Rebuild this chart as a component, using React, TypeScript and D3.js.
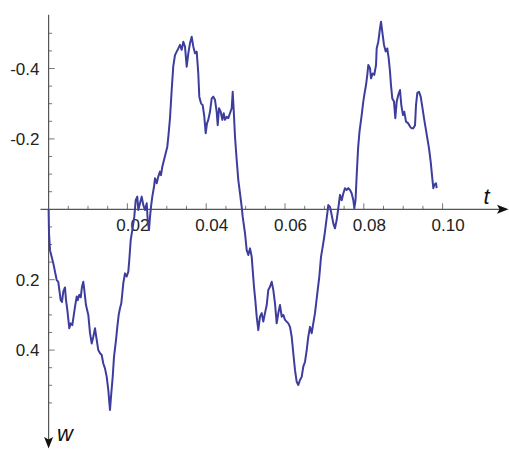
import React from "react";
import * as d3 from "d3";

// Sample path w(t): times (s) and displacements (positive downward)
const tValues: number[] = [
  0, 0.0001, 0.00036, 0.00119, 0.00162, 0.00206, 0.00246, 0.00272, 0.00307, 0.0034,
  0.00373, 0.00416, 0.00442, 0.00475, 0.00525, 0.00561, 0.00602, 0.00627, 0.0067, 0.00713,
  0.00739, 0.00779, 0.00815, 0.00848, 0.00881, 0.00906, 0.00949, 0.01008, 0.01051, 0.01094,
  0.01135, 0.01178, 0.01221, 0.01261, 0.01305, 0.01348, 0.01388, 0.01431, 0.01475, 0.01515,
  0.01558, 0.01584, 0.01627, 0.0166, 0.01711, 0.01744, 0.01779, 0.01812, 0.01845, 0.01871,
  0.01896, 0.01939, 0.01982, 0.02023, 0.02048, 0.02084,
  0.02124, 0.02175, 0.02211, 0.02251, 0.02277, 0.0232, 0.02363, 0.02404, 0.02447, 0.0249,
  0.02515, 0.02548, 0.02574, 0.02599, 0.02632, 0.02675, 0.02701, 0.02744, 0.02784, 0.02827,
  0.02853, 0.02886, 0.02929, 0.02972, 0.03013, 0.03043, 0.03081, 0.03124, 0.03165, 0.03208,
  0.03251, 0.03292, 0.03335, 0.03378, 0.03419, 0.03462, 0.03505, 0.03546, 0.03589, 0.03632,
  0.03673, 0.03716, 0.03759, 0.03799, 0.03825, 0.03868, 0.03911, 0.03952, 0.03987, 0.0402,
  0.04053, 0.04096, 0.0414, 0.0418, 0.04223, 0.04266, 0.04292, 0.04325, 0.04368, 0.04409,
  0.04444, 0.04477, 0.0452, 0.04561, 0.04604, 0.04647, 0.04673, 0.04698, 0.04731, 0.04774,
  0.04815, 0.04858, 0.04901,
  0.04926, 0.04985, 0.05028, 0.05069, 0.05112, 0.05155, 0.0518, 0.05213, 0.05246, 0.05282,
  0.05322, 0.05365, 0.05409, 0.05449, 0.05492, 0.05536, 0.05576, 0.05619, 0.05662, 0.05703,
  0.05746, 0.05789, 0.0583, 0.05873, 0.05916, 0.05957, 0.06, 0.06043, 0.06084, 0.06127,
  0.0617, 0.06211, 0.06254, 0.06297, 0.06338, 0.06381, 0.06424, 0.06464, 0.06508, 0.06551,
  0.06591, 0.06635, 0.06678, 0.06718, 0.06761, 0.0682, 0.06871, 0.06914, 0.06957, 0.06997,
  0.07041, 0.07084,
  0.07099, 0.07142, 0.07185, 0.07226, 0.07269, 0.07312, 0.07353, 0.07396, 0.07439, 0.0748,
  0.07523, 0.07566, 0.07607, 0.0765, 0.07693, 0.07734, 0.07759, 0.0779, 0.0782, 0.07855,
  0.0789, 0.07947, 0.07987, 0.08013, 0.08056, 0.08089, 0.08114, 0.08157, 0.08183, 0.08226,
  0.08266, 0.0831, 0.08327, 0.08368, 0.08411, 0.08437, 0.0848, 0.08513, 0.08556, 0.08596,
  0.08632, 0.08665, 0.0869, 0.08723, 0.08766, 0.088, 0.08835, 0.08876, 0.08919, 0.08952,
  0.08995, 0.09028, 0.09071, 0.09129, 0.09173, 0.09216, 0.09256, 0.093, 0.09325, 0.09358,
  0.09401, 0.09444, 0.09485, 0.09528, 0.09571, 0.09612, 0.09655, 0.09698, 0.09739, 0.09764,
  0.09789, 0.09832, 0.0985,
];

const wValues: number[] = [
  0, 0.067, 0.116, 0.153, 0.177, 0.201, 0.206, 0.229, 0.258, 0.263,
  0.234, 0.222, 0.258, 0.286, 0.338, 0.324, 0.329, 0.31, 0.277, 0.248,
  0.258, 0.243, 0.25, 0.22, 0.206, 0.229, 0.272, 0.3, 0.352, 0.381,
  0.362, 0.338, 0.371, 0.4, 0.409, 0.414, 0.438, 0.452, 0.476, 0.513,
  0.57, 0.532, 0.476, 0.419, 0.371, 0.334, 0.3, 0.281, 0.267, 0.239,
  0.21, 0.182, 0.191, 0.177, 0.144, 0.087,
  0.059, 0.021, -0.026, -0.036, 0.002, -0.017, -0.036, -0.012, 0.002, -0.017,
  0.03, 0.059, 0.021, -0.007, -0.036, -0.064, -0.088, -0.074, -0.093, -0.107,
  -0.097, -0.121, -0.14, -0.159, -0.178, -0.211, -0.259, -0.339, -0.407, -0.438,
  -0.448, -0.457, -0.467, -0.453, -0.476, -0.462, -0.405, -0.443, -0.472, -0.49,
  -0.462, -0.443, -0.448, -0.386, -0.32, -0.301, -0.296, -0.263, -0.216, -0.244,
  -0.254, -0.277, -0.315, -0.32, -0.311, -0.277, -0.239, -0.287, -0.277, -0.254,
  -0.273, -0.254, -0.263, -0.259, -0.273, -0.287, -0.334, -0.282, -0.206, -0.14,
  -0.083, -0.045, -0.007,
  0.021, 0.068, 0.116, 0.13, 0.111, 0.135, 0.172, 0.22, 0.258, 0.305,
  0.343, 0.305, 0.295, 0.319, 0.295, 0.272, 0.229, 0.22, 0.206, 0.229,
  0.267, 0.324, 0.295, 0.272, 0.305, 0.3, 0.314, 0.319, 0.324, 0.334,
  0.362, 0.409, 0.457, 0.49, 0.499, 0.485, 0.476, 0.447, 0.433, 0.4,
  0.362, 0.334, 0.352, 0.324, 0.295, 0.239, 0.191, 0.135, 0.106, 0.078,
  0.04, 0.002,
  -0.012, -0.007, 0.016, 0.04, 0.054, 0.03, -0.003, -0.041, -0.026, -0.045,
  -0.06, -0.055, -0.06, -0.055, -0.045, -0.026, -0.003, -0.026, -0.097, -0.173,
  -0.22, -0.268, -0.306, -0.325, -0.353, -0.382, -0.41, -0.401, -0.372, -0.386,
  -0.382, -0.41, -0.457, -0.476, -0.514, -0.533, -0.495, -0.467, -0.448, -0.457,
  -0.429, -0.391, -0.353, -0.315, -0.306, -0.259, -0.306, -0.325, -0.339, -0.296,
  -0.268, -0.277, -0.249, -0.244, -0.235, -0.23, -0.23, -0.239, -0.296, -0.33,
  -0.334, -0.32, -0.291, -0.259, -0.23, -0.202, -0.173, -0.135, -0.088, -0.06,
  -0.069, -0.074, -0.06,
];

const xTickLabels: number[] = [0.02, 0.04, 0.06, 0.08, 0.1];
const yTickLabels: number[] = [-0.4, -0.2, 0.2, 0.4];

const W = 509;
const H = 451;
const AXIS = "#555555";
const LINE = "#3d3d9e";
const FONT = "'Liberation Sans', Arial, Helvetica, sans-serif";

export default function App() {
  const x = d3.scaleLinear().domain([0, 0.1]).range([48.6, 442.6]);
  const y = d3.scaleLinear().domain([0, 0.2]).range([209.3, 279.7]);

  const points: [number, number][] = tValues.map((t, i) => [t, wValues[i]]);
  const path = d3
    .line<[number, number]>()
    .x((d) => x(d[0]))
    .y((d) => y(d[1]))(points);

  const x0 = x(0);
  const y0 = y(0);

  // minor ticks every 0.005 along t, every 0.05 along w
  const xMinor = d3.range(1, 21).map((k) => k * 0.005);
  const yMinor = d3.range(-10, 12).filter((k) => k !== 0).map((k) => k * 0.05);

  const xFmt = (v: number) => v.toFixed(2);
  const yFmt = (v: number) => v.toFixed(1);

  const isMajorX = (v: number) => Math.abs(v / 0.02 - Math.round(v / 0.02)) < 1e-6;
  const isMajorY = (v: number) => Math.abs(v / 0.2 - Math.round(v / 0.2)) < 1e-6;

  return (
    <svg
      width={W}
      height={H}
      style={{ position: "absolute", left: 0, top: 0, background: "#fff" }}
      fontFamily={FONT}
    >
      {/* horizontal axis with arrow */}
      <line x1={40.5} x2={500} y1={y0} y2={y0} stroke={AXIS} strokeWidth={1.2} />
      <path d={`M508.5,${y0} L497,${y0 - 4.5} L499.5,${y0} L497,${y0 + 4.5} Z`} fill="#111" />
      {/* vertical axis with arrow */}
      <line x1={x0} x2={x0} y1={y(-0.553)} y2={441} stroke={AXIS} strokeWidth={1.2} />
      <path d={`M${x0},448.5 L${x0 - 4.5},437 L${x0},439.5 L${x0 + 4.5},437 Z`} fill="#111" />

      {xMinor.map((v) => (
        <line
          key={"xt" + v}
          x1={x(v)}
          x2={x(v)}
          y1={y0}
          y2={y0 - (isMajorX(v) ? 6 : 3.5)}
          stroke={AXIS}
          strokeWidth={0.8}
        />
      ))}
      {yMinor.map((v) => (
        <line
          key={"yt" + v}
          x1={x0}
          x2={x0 + (isMajorY(v) ? 6 : 3.5)}
          y1={y(v)}
          y2={y(v)}
          stroke={AXIS}
          strokeWidth={0.8}
        />
      ))}

      {xTickLabels.map((v) => (
        <text key={"xl" + v} x={x(v) + 5.5} y={230.5} textAnchor="middle" fontSize={17} fill="#222">
          {xFmt(v)}
        </text>
      ))}
      {yTickLabels.map((v) => (
        <text
          key={"yl" + v}
          x={39.5}
          y={y(v) + 6}
          textAnchor="end"
          fontSize={17}
          fill="#222"
        >
          {yFmt(v)}
        </text>
      ))}

      <text x={483.5} y={203.5} fontSize={22} fontStyle="italic" fill="#111">
        t
      </text>
      <text x={57} y={440.5} fontSize={22} fontStyle="italic" fill="#111">
        w
      </text>

      <path d={path ?? ""} fill="none" stroke={LINE} strokeWidth={2} strokeLinejoin="round" />
    </svg>
  );
}
